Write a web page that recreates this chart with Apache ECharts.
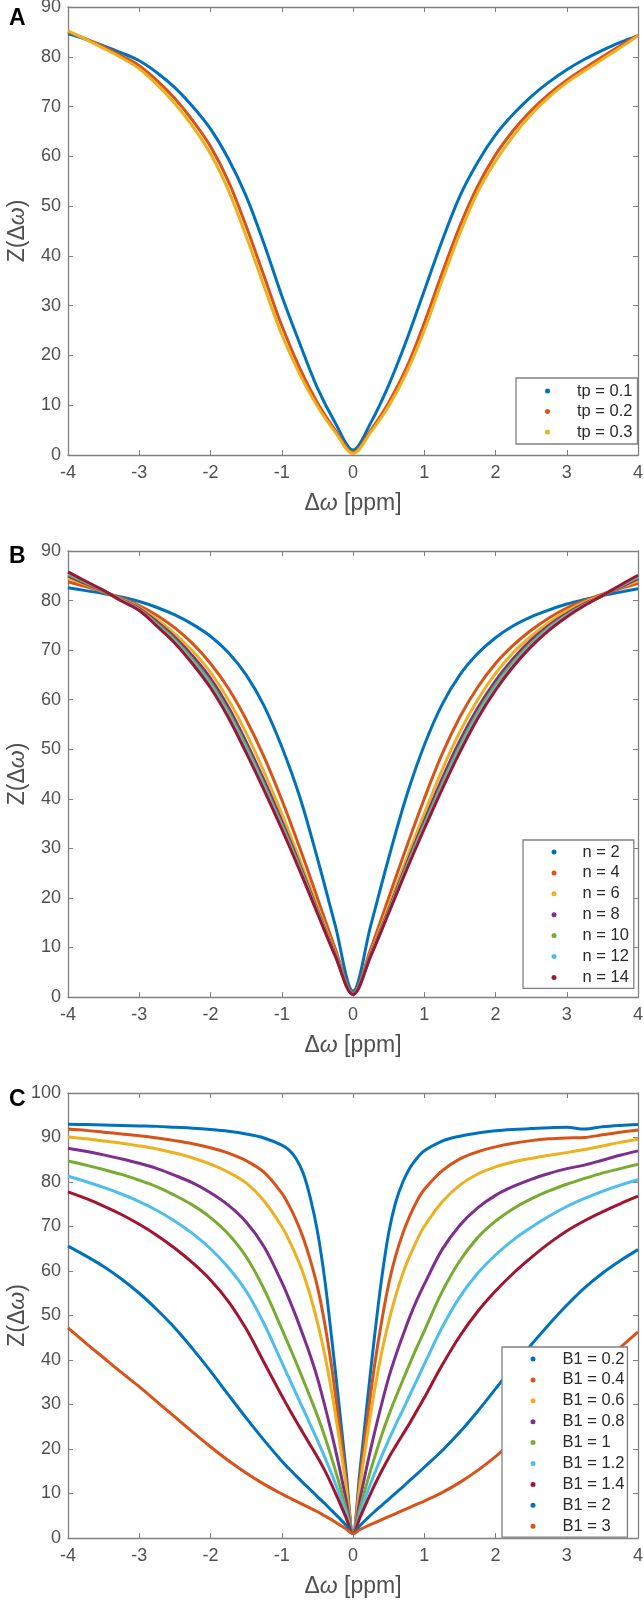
<!DOCTYPE html>
<html>
<head>
<meta charset="utf-8">
<script src="https://cdn.jsdelivr.net/npm/echarts@6/dist/echarts.min.js"></script>
<style>html,body{margin:0;padding:0;background:#fff}#c{width:644px;height:1603px}</style>
</head>
<body>
<div id="c"></div>
<script>
// ---------- Panel A ----------
const xA = [-4,-3.75,-3.5,-3.25,-3,-2.75,-2.5,-2.25,-2,-1.75,-1.5,-1.25,-1,-0.75,-0.5,-0.25,0,0.25,0.5,0.75,1,1.25,1.5,1.75,2,2.25,2.5,2.75,3,3.25,3.5,3.75,4];
const namesA = ['tp = 0.1','tp = 0.2','tp = 0.3'];
const tp01 = [84.6,83.5,82.2,80.8,79.2,76.8,73.8,70.0,65.5,59.5,52,42.5,32,22.5,13.5,6.5,1.0,6.5,14,23,33,43,52,58.8,64.3,68.5,72,74.9,77.4,79.5,81.3,82.9,84.2];
const tp02 = [85,83.6,82,80.2,78.2,75.2,71.6,67.2,62,55,46,36,26,17.5,10.5,5,0.5,5,10.5,17.5,26.5,36.5,46,54,60.3,65.2,69.2,72.5,75.3,77.7,80,82.2,84.3];
const tp03 = [85.2,83.5,81.7,79.8,77.6,74.4,70.6,66,60.5,53.2,44,34,24.2,16.3,9.8,4.6,0.3,4.6,9.8,16.5,25,35,44.5,52.8,59,64.1,68.4,71.9,74.8,77.2,79.5,81.8,84.2];

// ---------- Panel B ----------
const xB = [-4,-3.75,-3.5,-3.25,-3,-2.75,-2.5,-2.25,-2,-1.75,-1.5,-1.25,-1,-0.75,-0.5,-0.25,0,0.25,0.5,0.75,1,1.25,1.5,1.75,2,2.25,2.5,2.75,3,3.25,3.5,3.75,4];
const namesB = ['n = 2','n = 4','n = 6','n = 8','n = 10','n = 12','n = 14'];
const n2  = [82.6,82.0,81.4,80.7,79.8,78.6,77.1,75.2,72.8,69.5,65,58.8,50.5,40.5,28,14.5,1.2,14.5,28,40.5,50.8,59,65,69.3,72.5,74.9,76.7,78.1,79.3,80.2,81,81.7,82.4];
const n4  = [83.8,82.8,81.7,80.5,79,77,74.5,71.3,67.3,62.3,56,48.5,39.8,30.2,20,9.8,0.8,9.8,20,30.2,40,49,56.5,62.5,67.3,71,74,76.5,78.5,80,81.3,82.4,83.5];
const n6  = [84.6,83.2,81.8,80.3,78.6,76.2,73.3,69.8,65.5,60,53.3,45.5,37,27.8,18.3,9,0.7,9,18.3,27.8,37,45.8,53.5,60,65.3,69.5,72.8,75.6,77.9,79.7,81.1,82.6,84];
const n8  = [85,83.4,81.9,80.2,78.4,75.7,72.6,68.8,64.3,58.5,51.5,43.8,35.5,26.8,17.6,8.7,0.6,8.7,17.6,26.8,35.5,44,51.7,58.3,63.8,68.3,72,75,77.4,79.4,81,82.7,84.4];
const n10 = [85.3,83.6,81.95,80.1,78.2,75.3,72.1,68.1,63.5,57.6,50.6,42.9,34.8,26.3,17.3,8.5,0.6,8.5,17.3,26.3,34.8,43,50.7,57.4,63,67.6,71.4,74.6,77.1,79.2,81,82.9,84.7];
const n12 = [85.6,83.8,82,80,78.1,75,71.7,67.6,62.9,56.9,49.9,42.3,34.3,25.9,17.1,8.4,0.5,8.4,17.1,25.9,34.3,42.4,50,56.8,62.4,67.1,71,74.3,76.9,79.1,81,83,84.9];
const n14 = [85.8,83.9,82.05,79.9,78,74.8,71.4,67.2,62.4,56.4,49.3,41.8,33.9,25.6,16.9,8.3,0.5,8.3,16.9,25.6,33.9,41.9,49.4,56.2,61.9,66.7,70.7,74,76.7,79,81,83.1,85.1];

// ---------- Panel C ----------
const xC = [-4,-3.75,-3.5,-3.25,-3,-2.75,-2.5,-2.25,-2,-1.75,-1.5,-1.25,-1,-0.9,-0.8,-0.7,-0.6,-0.5,-0.4,-0.3,-0.2,-0.1,0,
            0.1,0.2,0.3,0.4,0.5,0.6,0.7,0.8,0.9,1,1.25,1.5,1.75,2,2.25,2.5,2.75,3,3.25,3.5,3.75,4];
const namesC = ['B1 = 0.2','B1 = 0.4','B1 = 0.6','B1 = 0.8','B1 = 1','B1 = 1.2','B1 = 1.4','B1 = 2','B1 = 3'];
const b02 = [93,92.9,92.8,92.7,92.6,92.5,92.3,92.1,91.8,91.4,90.8,89.9,88.3,87.2,85.3,82,76.5,69,58.5,45,30.5,15.5,1,
             15.5,30.5,45,58,68.5,75.5,80,83.2,85.4,87,89.2,90.3,91,91.5,91.8,92,92.2,92.3,91.9,92.4,92.7,92.9];
const b04 = [91.9,91.6,91.2,90.8,90.4,89.9,89.3,88.6,87.7,86.5,84.8,82.2,77.5,74.8,71.5,67.5,62.5,56.5,48.5,38.5,26.5,13.5,1,
             13.5,26.5,38.5,48.5,57,63.5,68.5,72.5,75.8,78.3,82.5,85.2,86.8,87.9,88.7,89.3,89.7,89.9,90,90.6,91.2,91.7];
const b06 = [90.1,89.7,89.2,88.7,88.1,87.4,86.5,85.4,84,82.2,79.8,75.8,70,67,63.5,59.5,54.5,48.5,41.5,33,23,12,1,
             12,23,33,41.5,48.5,54.5,59.5,63.5,67,70,75.5,79.3,81.8,83.4,84.5,85.3,86,86.6,87.3,88.1,88.9,89.6];
const b08 = [87.6,86.9,86.1,85.2,84.2,83,81.5,79.8,77.6,74.8,71,65.5,57.5,53.8,49.8,45.5,41,36,30,23.5,16.5,8.8,1,
             8.8,16.5,23.5,30,36,41,45.5,49.8,53.6,57,64.8,70.3,74.2,77,79,80.6,81.9,83,83.8,84.9,86,87];
const b10 = [84.7,83.8,82.8,81.7,80.4,78.9,77,74.8,72,68.3,63.2,56,47,43.3,39.5,35.6,31.6,27.5,23,18,12.6,6.8,1,
             6.8,12.6,18,23,27.5,31.6,35.5,39.3,43,46.5,55.3,62.3,67.5,71.2,74,76.2,78,79.5,80.8,82,83,84];
const b12 = [81.3,80.1,78.8,77.3,75.6,73.6,71.2,68.4,65,60.8,55.5,48.2,39.5,36,32.5,29,25.5,22,18.3,14.4,10.2,5.6,1,
             5.6,10.2,14.4,18.3,22,25.5,28.8,32.2,35.6,39,47.3,54.2,59.5,63.6,67,69.8,72.3,74.5,76.3,77.9,79.3,80.5];
const b14 = [77.8,76.3,74.6,72.7,70.5,68,65.1,61.8,58,53.2,47,39.5,32,29.1,26.3,23.6,20.9,18.2,15.3,12,8.4,4.7,1,
             4.7,8.3,11.8,15,18,20.7,23.3,25.9,28.7,31.5,38.8,45.4,50.9,55.5,59.5,63,66.2,69,71.3,73.3,75.1,76.8];
const b2  = [65.6,63.4,61,58.2,55,51.3,47.2,42.5,37.5,32.2,27,22,17.3,15.6,14,12.4,10.9,9.3,7.8,6.2,4.6,2.9,1,
             2.8,4.4,5.9,7.3,8.7,10.1,11.5,13,14.4,15.9,19.6,23.8,28.5,33.5,38.5,43.4,48,52.3,56.2,59.5,62.3,64.8];
const b3  = [47.2,43.8,40.5,37.2,34,30.6,27.2,23.8,20.5,17.4,14.6,12.1,9.9,9.1,8.3,7.5,6.7,5.9,5,4.1,3.1,2.1,1,
             1.9,2.7,3.4,4.1,4.8,5.5,6.2,6.9,7.6,8.3,10.2,12.5,15.2,18.3,21.7,25.2,28.8,32.3,35.8,39.3,42.8,46.3];

const colors = ['#0072BD','#D95319','#EDB120','#7E2F8E','#77AC30','#4DBEEE','#A2142F'];
const colorsC = ['#0072BD','#D95319','#EDB120','#7E2F8E','#77AC30','#4DBEEE','#A2142F','#0072BD','#D95319'];

const FONT = 'Liberation Sans, Arial, sans-serif';
const AX = '#808080';
const LBL = '#505050';

const grids = [
  {left:68, width:570, top:7, height:448, containLabel:false, outerBoundsMode:'none'},
  {left:68, width:570, top:551, height:446, containLabel:false, outerBoundsMode:'none'},
  {left:68, width:570, top:1093, height:445, containLabel:false, outerBoundsMode:'none'}
];
const yMax = [90, 90, 100];

const richName = {
  n:{fontFamily:FONT, fontSize:23, color:LBL},
  i:{fontFamily:FONT, fontSize:23, fontStyle:'italic', color:LBL}
};

const xAxes = [], yAxes = [];
grids.forEach((g, i) => {
  xAxes.push({
    type:'value', gridIndex:i, min:-4, max:4, interval:1, position:'bottom',
    axisLine:{onZero:false, lineStyle:{color:AX, width:1.3}},
    axisTick:{inside:true, length:5, lineStyle:{color:AX}},
    axisLabel:{fontFamily:FONT, fontSize:18, color:LBL, margin:9},
    splitLine:{show:false},
    name:'{n|Δ}{i|ω}{n| [ppm]}', nameLocation:'middle', nameGap:37, nameMoveOverlap:false,
    nameTextStyle:{rich:richName}
  });
  xAxes.push({
    type:'value', gridIndex:i, min:-4, max:4, interval:1, position:'top',
    axisLine:{onZero:false, lineStyle:{color:AX, width:1.3}},
    axisTick:{inside:true, length:5, lineStyle:{color:AX}},
    axisLabel:{show:false}, splitLine:{show:false}
  });
  yAxes.push({
    type:'value', gridIndex:i, min:0, max:yMax[i], interval:10, position:'left',
    axisLine:{onZero:false, show:true, lineStyle:{color:AX, width:1.3}},
    axisTick:{show:true, inside:true, length:5, lineStyle:{color:AX}},
    axisLabel:{fontFamily:FONT, fontSize:18, color:LBL, margin:7},
    splitLine:{show:false},
    name:'{n|Z(Δ}{i|ω}{n|)}', nameLocation:'middle', nameGap:39, nameRotate:90, nameMoveOverlap:false,
    nameTextStyle:{rich:richName}
  });
  yAxes.push({
    type:'value', gridIndex:i, min:0, max:yMax[i], interval:10, position:'right',
    axisLine:{onZero:false, show:true, lineStyle:{color:AX, width:1.3}},
    axisTick:{show:true, inside:true, length:5, lineStyle:{color:AX}},
    axisLabel:{show:false}, splitLine:{show:false}
  });
});

function mk(name, xs, ys, color, gi) {
  return {
    name, type:'line', xAxisIndex:gi*2, yAxisIndex:gi*2,
    data: xs.map((x, k) => [x, ys[k]]),
    showSymbol:false, smooth:0.35, color,
    lineStyle:{width:3, color}, emphasis:{disabled:true}
  };
}

const series = [];
[tp01,tp02,tp03].forEach((ys,k)=>series.push(mk(namesA[k], xA, ys, colors[k], 0)));
[n2,n4,n6,n8,n10,n12,n14].forEach((ys,k)=>series.push(mk(namesB[k], xB, ys, colors[k], 1)));
[b02,b04,b06,b08,b10,b12,b14,b2,b3].forEach((ys,k)=>series.push(mk(namesC[k], xC, ys, colorsC[k], 2)));

function legend(names, left, top, padding, textPad, gap) {
  return {
    data: names.map(n => ({name:n, icon:'circle'})),
    orient:'vertical', left, top, padding, itemGap:gap,
    itemWidth:5, itemHeight:5,
    backgroundColor:'#fff', borderColor:'#808080', borderWidth:1.3, borderRadius:0,
    textStyle:{fontFamily:FONT, fontSize:16.5, color:'#2a2a2a', lineHeight:20, padding:[0,0,0,textPad]},
    selectedMode:false
  };
}

const option = {
  animation:false,
  backgroundColor:'#fff',
  title:[
    {text:'A', left:4, top:2, textStyle:{fontFamily:FONT, fontSize:23, fontWeight:'bold', color:'#000'}},
    {text:'B', left:4, top:540, textStyle:{fontFamily:FONT, fontSize:23, fontWeight:'bold', color:'#000'}},
    {text:'C', left:4, top:1083, textStyle:{fontFamily:FONT, fontSize:23, fontWeight:'bold', color:'#000'}}
  ],
  grid: grids,
  xAxis: xAxes,
  yAxis: yAxes,
  legend:[
    legend(namesA, 516, 378, [3,5,2,29], 22, 0.5),
    legend(namesB, 523, 840, [2,5,1,28.5], 21, 0.9),
    legend(namesC, 502, 1347, [2,3,1,28.5], 22, 0.9)
  ],
  series
};

const chart = echarts.init(document.getElementById('c'), null, {renderer:'canvas'});
chart.setOption(option);
</script>
</body>
</html>
